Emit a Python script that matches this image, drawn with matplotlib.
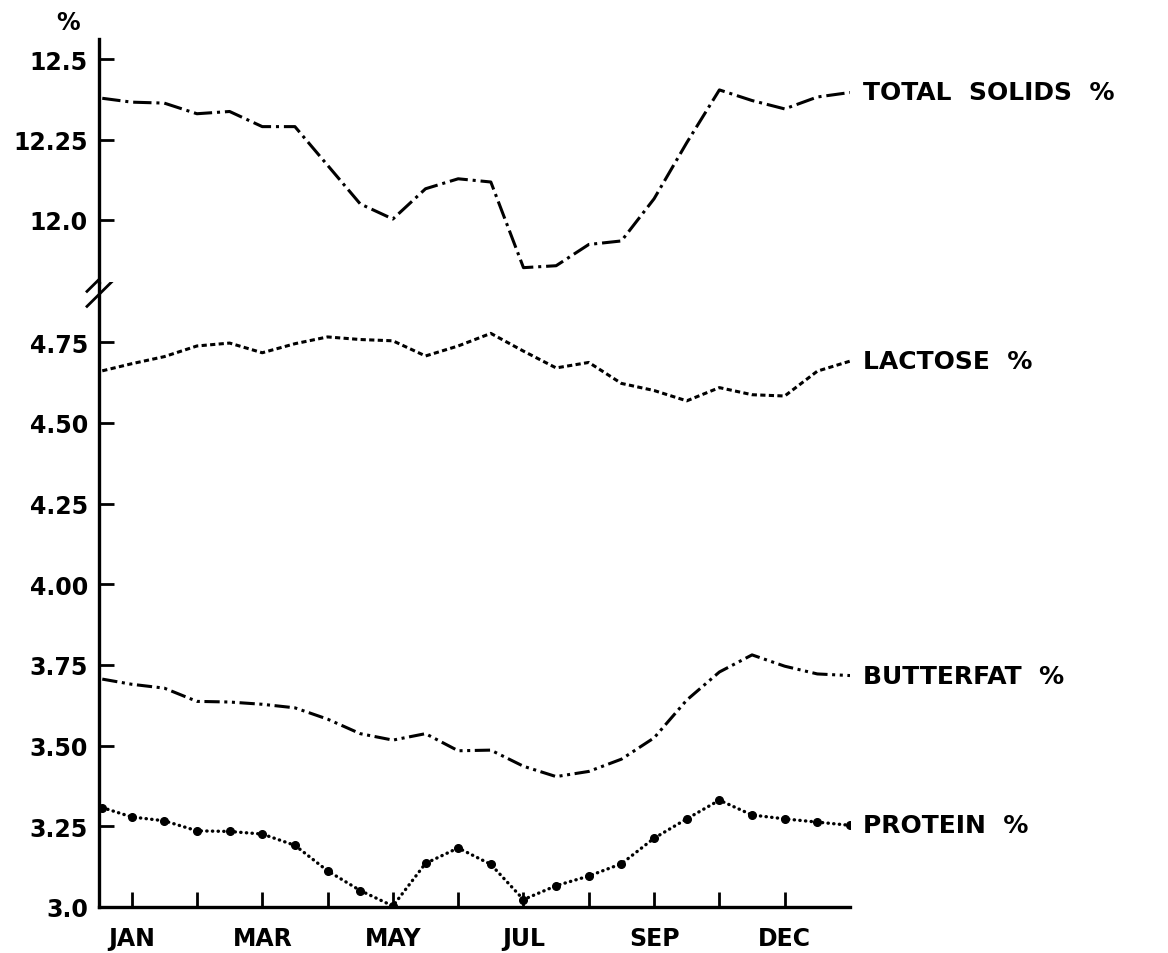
import matplotlib
matplotlib.use("Agg")
import matplotlib.pyplot as plt

# month positions: first reading sits just left of JAN, then every half month
x = [-0.45, 0.0, 0.5, 1.0, 1.5, 2.0, 2.5, 3.0, 3.5, 4.0, 4.5, 5.0,
     5.5, 6.0, 6.5, 7.0, 7.5, 8.0, 8.5, 9.0, 9.5, 10.0, 10.5, 11.0]

total_solids = [12.378, 12.366, 12.363, 12.330, 12.337, 12.290, 12.290, 12.170,
                12.050, 12.003, 12.097, 12.128, 12.118, 11.852, 11.858, 11.924,
                11.935, 12.066, 12.240, 12.404, 12.371, 12.345, 12.382, 12.396]
lactose = [4.661, 4.683, 4.705, 4.738, 4.747, 4.717, 4.745, 4.766,
           4.758, 4.754, 4.707, 4.738, 4.777, 4.722, 4.670, 4.687,
           4.622, 4.600, 4.568, 4.609, 4.587, 4.583, 4.660, 4.691]
butterfat = [3.706, 3.690, 3.678, 3.637, 3.635, 3.628, 3.617, 3.582,
             3.537, 3.517, 3.537, 3.484, 3.486, 3.436, 3.404, 3.420,
             3.458, 3.524, 3.641, 3.728, 3.781, 3.746, 3.722, 3.717]
protein = [3.308, 3.279, 3.267, 3.236, 3.234, 3.226, 3.191, 3.112,
           3.051, 3.003, 3.135, 3.183, 3.132, 3.023, 3.066, 3.096,
           3.134, 3.213, 3.273, 3.331, 3.285, 3.273, 3.263, 3.253]

month_ticks = list(range(11))
month_labels = ["JAN", "", "MAR", "", "MAY", "", "JUL", "", "SEP", "", "DEC"]

upper_ticks = [12.0, 12.25, 12.5]
upper_labels = ["12.0", "12.25", "12.5"]
lower_ticks = [3.0, 3.25, 3.5, 3.75, 4.0, 4.25, 4.5, 4.75]
lower_labels = ["3.0", "3.25", "3.50", "3.75", "4.00", "4.25", "4.50", "4.75"]

plt.rcParams["font.family"] = "DejaVu Sans"
plt.rcParams["font.weight"] = "bold"

fig = plt.figure(figsize=(11.68, 9.54), dpi=100)
left, width = 99 / 1168, 751 / 1168
ax_lo = fig.add_axes([left, 46 / 954, width, 625 / 954])
ax_hi = fig.add_axes([left, 671 / 954, width, 243 / 954], sharex=ax_lo)

lw = 2.2
ts_style = (0, (6, 1.6, 1, 1.6))
bf_style = (0, (5, 1.5, 1, 1.5, 1, 1.5))
la_style = (0, (1.7, 1.1))
pr_style = (0, (0.1, 1.6))

ax_hi.plot(x, total_solids, color="black", lw=lw, linestyle=ts_style)
ax_lo.plot(x, lactose, color="black", lw=lw, linestyle=la_style)
ax_lo.plot(x, butterfat, color="black", lw=lw, linestyle=bf_style)
ax_lo.plot(x, protein, color="black", lw=2.4, linestyle=pr_style,
           dash_capstyle="round", marker="o", markersize=5.5)

ax_lo.set_xlim(-0.5, 11)
ax_lo.set_ylim(3.0, 3.0 + 625 / 322.8)
ax_hi.set_ylim(12.0 - 62 / 322, 12.0 + 181 / 322)

for ax in (ax_lo, ax_hi):
    for s in ("top", "right"):
        ax.spines[s].set_visible(False)
    ax.spines["left"].set_linewidth(2.4)
    ax.tick_params(axis="y", direction="in", length=11, width=2,
                   labelsize=17, pad=8)
ax_hi.spines["bottom"].set_visible(False)
ax_hi.tick_params(axis="x", bottom=False, labelbottom=False)

ax_lo.spines["bottom"].set_linewidth(2.4)
ax_lo.set_xticks(month_ticks)
ax_lo.set_xticklabels(month_labels)
ax_lo.tick_params(axis="x", direction="in", length=11, width=2,
                  labelsize=17, pad=14)
ax_lo.set_yticks(lower_ticks)
ax_lo.set_yticklabels(lower_labels)
ax_hi.set_yticks(upper_ticks)
ax_hi.set_yticklabels(upper_labels)

# axis break marks
for dy in (0.0, -0.024):
    ax_lo.plot([-0.016, 0.026], [0.985 + dy, 1.035 + dy], color="black",
               lw=2, transform=ax_lo.transAxes, clip_on=False)

label_kw = dict(xytext=(9, 0), textcoords="offset points", va="center",
                ha="left", fontsize=18, annotation_clip=False)
ax_hi.annotate("TOTAL  SOLIDS  %", xy=(x[-1], total_solids[-1]), **label_kw)
ax_lo.annotate("LACTOSE  %", xy=(x[-1], lactose[-1]), **label_kw)
ax_lo.annotate("BUTTERFAT  %", xy=(x[-1], butterfat[-1]), **label_kw)
ax_lo.annotate("PROTEIN  %", xy=(x[-1], protein[-1]), **label_kw)

fig.text(68 / 1168, 1 - 23 / 954, "%", fontsize=17, ha="center", va="center")

fig.savefig("out.png", dpi=100)
